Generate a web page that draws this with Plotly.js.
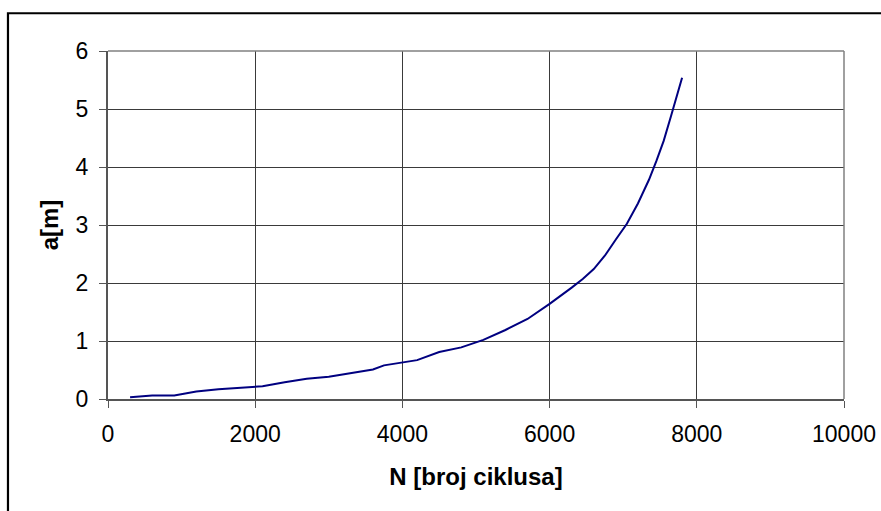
<!DOCTYPE html>
<html>
<head>
<meta charset="utf-8">
<script src="https://cdn.plot.ly/plotly-3.0.1.min.js"></script>
<style>html,body{margin:0;padding:0;background:#fff;}#chart{width:881px;height:511px;}</style>
</head>
<body>
<div id="chart"></div>
<script>
const cycles = [300, 600, 900, 1200, 1500, 1800, 2100, 2400, 2700, 3000, 3300, 3600, 3750, 4000, 4200, 4500, 4800, 5100, 5400, 5700, 6000, 6300, 6450, 6600, 6750, 6900, 7050, 7200, 7350, 7450, 7550, 7650, 7750, 7800];
const crackLength = [0.03, 0.06, 0.06, 0.13, 0.17, 0.20, 0.22, 0.29, 0.35, 0.385, 0.45, 0.51, 0.58, 0.63, 0.67, 0.81, 0.89, 1.02, 1.19, 1.38, 1.64, 1.92, 2.07, 2.24, 2.47, 2.75, 3.02, 3.37, 3.78, 4.1, 4.45, 4.88, 5.3, 5.54];
const xTicks = [0, 2000, 4000, 6000, 8000, 10000];
const yTicks = [0, 1, 2, 3, 4, 5, 6];
const xTitle = 'N [broj ciklusa]';
const yTitle = 'a[m]';

const FONT = 'Liberation Sans, Arial, sans-serif';

const trace = {
  x: cycles, y: crackLength, type: 'scatter', mode: 'lines',
  line: {color: '#000080', width: 2}, hoverinfo: 'skip'
};

const layout = {
  width: 881, height: 511,
  margin: {l: 108, r: 37, t: 51, b: 112},
  paper_bgcolor: '#ffffff', plot_bgcolor: '#ffffff',
  showlegend: false,
  font: {family: FONT, color: '#000', size: 23},
  xaxis: {
    range: [0, 10000], tickvals: xTicks, ticktext: xTicks.map(String),
    showgrid: true, gridcolor: '#3a3a3a', gridwidth: 1,
    zeroline: false, showline: true, linecolor: '#555', linewidth: 2,
    ticks: 'outside', ticklen: 7, tickcolor: '#555', tickwidth: 1,
    ticklabelstandoff: 6,
    tickfont: {family: FONT, size: 23, color: '#000'},
    title: {text: xTitle, font: {family: FONT, size: 24, color: '#000', weight: 'bold'}, standoff: 23}
  },
  yaxis: {
    range: [0, 6], tickvals: yTicks, ticktext: yTicks.map(String),
    showgrid: true, gridcolor: '#3a3a3a', gridwidth: 1,
    zeroline: false, showline: true, linecolor: '#555', linewidth: 2,
    ticks: 'outside', ticklen: 7, tickcolor: '#555', tickwidth: 1,
    ticklabelstandoff: 6,
    tickfont: {family: FONT, size: 23, color: '#000'},
    title: {text: yTitle, font: {family: FONT, size: 24, color: '#000', weight: 'bold'}, standoff: 10}
  },
  shapes: [
    {type: 'line', xref: 'paper', yref: 'paper', x0: 0, x1: 1, y0: 1, y1: 1, line: {color: '#808080', width: 1.5}},
    {type: 'line', xref: 'paper', yref: 'paper', x0: 1, x1: 1, y0: 0, y1: 1, line: {color: '#808080', width: 1.5}},
    {type: 'rect', xref: 'paper', yref: 'paper', x0: -0.1359, x1: 1.07, y0: -0.35, y1: 1.1085, line: {color: '#000', width: 2.2}, fillcolor: 'rgba(0,0,0,0)', layer: 'below'}
  ]
};

Plotly.newPlot('chart', [trace], layout, {staticPlot: true, displayModeBar: false});
</script>
</body>
</html>
